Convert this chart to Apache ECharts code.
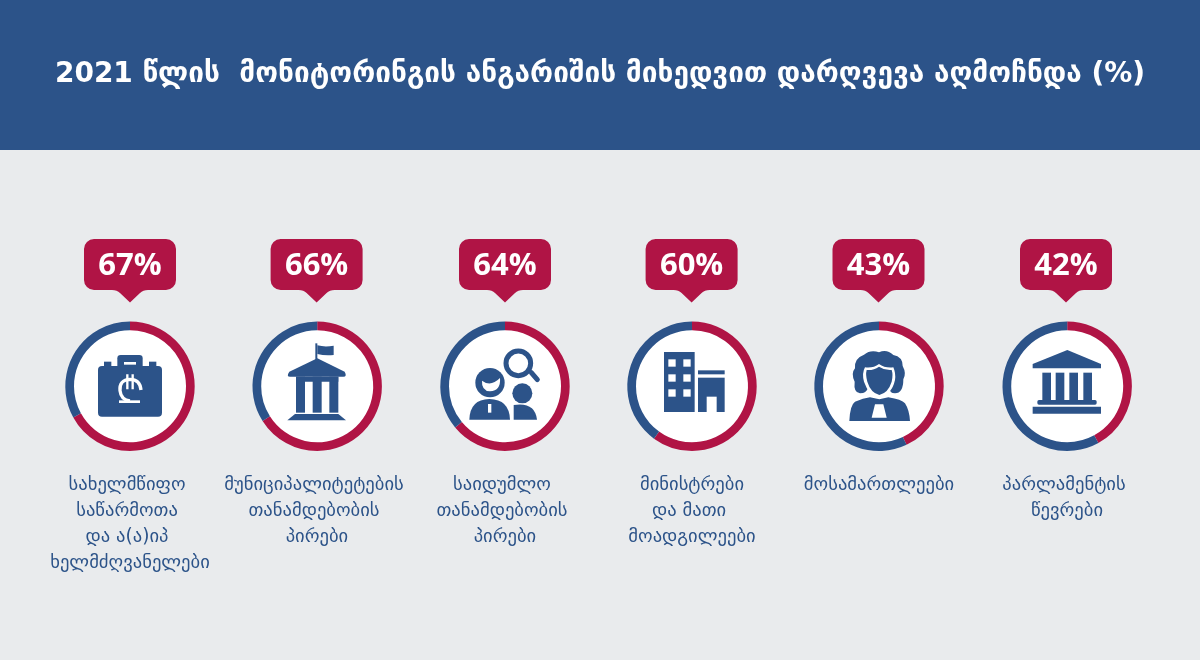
<!DOCTYPE html>
<html><head><meta charset="utf-8">
<style>html,body{margin:0;padding:0;background:#e9ebed}#c{width:1200px;height:660px}</style>
<script src="https://cdn.jsdelivr.net/npm/echarts@6/dist/echarts.min.js"></script>
</head><body><div id="c"></div>
<script>
const titleText = '2021 წლის  მონიტორინგის ანგარიშის მიხედვით დარღვევა აღმოჩნდა (%)';
const values = [67, 66, 64, 60, 43, 42];
const categories = [
  ['სახელმწიფო ', 'საწარმოთა ', 'და ა(ა)იპ ', 'ხელმძღვანელები'],
  ['მუნიციპალიტეტების', 'თანამდებობის', ' პირები'],
  ['საიდუმლო', 'თანამდებობის', ' პირები'],
  ['მინისტრები', 'და მათი ', 'მოადგილეები'],
  ['მოსამართლეები'],
  ['პარლამენტის', ' წევრები']
];
const BLUE = '#2c5389', RED = '#b01445', BG = '#e9ebed';
const ringX = [130, 317.2, 505, 692, 879, 1067.2];
const bubbleX = [130, 316.6, 505, 691.6, 878.5, 1066];
const labelX = [130, 314, 502, 692, 879, 1064];
const RING_Y = 386.3;

let shapeId = 0;
function pathEl(d, style) {
  const name = 'iconPath' + (shapeId++);
  echarts.graphic.registerShape(name, echarts.graphic.extendPath(d, {}));
  return {type: name, shape: {}, style: style};
}
const f = (d, fill) => pathEl(d, {fill: fill || BLUE});
const s = (d, color, w, cap) => pathEl(d, {fill: 'none', stroke: color || BLUE, lineWidth: w, lineCap: cap || 'butt'});
const c = (x, y, r, fill) => ({type: 'circle', shape: {cx: x, cy: y, r: r}, style: {fill: fill || BLUE}});
const r = (x, y, w, h, fill, rad) => ({type: 'rect', shape: {x: x, y: y, width: w, height: h, r: rad || 0}, style: {fill: fill || BLUE}});

// Icons are drawn in 3x crop coordinates; each has its group origin.
const icons = [
  {x: 40, y: 230, children: [
    r(232, 375, 76, 50, BLUE, 10), r(192, 395, 22, 20), r(327, 395, 22, 20),
    r(174, 408, 192, 152, BLUE, 12), r(252, 396, 36, 8, '#fff'),
    s('M303 480 Q300 448 270 448 Q237 450 240 482 Q243 510 270 513', '#fff', 10),
    s('M262 433 V478 M278 433 V478', '#fff', 7),
    r(237, 511, 63, 8, '#fff')
  ]},
  {x: 40, y: 230, children: [
    r(826, 340, 6, 50), f('M832 346 Q855 352 881 347 V375 Q855 378 832 372 Z'),
    f('M832 385 L914 425 Q922 440 910 440 H750 Q738 440 748 425 Z'),
    r(768, 440, 27, 108), r(818, 440, 27, 108), r(868, 440, 27, 108), r(768, 440, 127, 15),
    f('M742 571 L765 552 H895 L918 571 Z')
  ]},
  {x: 420, y: 230, children: [
    {type: 'circle', shape: {cx: 295, cy: 400, r: 37}, style: {fill: 'none', stroke: BLUE, lineWidth: 15}},
    s('M334 428 L352 449', BLUE, 15, 'round'),
    c(210, 458, 44),
    f('M186 452 Q212 472 240 444 Q243 482 210 484 Q184 482 186 452 Z', '#fff'),
    f('M148 569 Q150 508 208 507 Q268 508 270 569 Z'),
    r(204, 522, 10, 26, '#fff'), c(307, 490, 30),
    f('M281 569 V525 Q345 515 351 569 Z')
  ]},
  {x: 420, y: 230, children: [
    r(732, 366, 92, 180),
    ...[745, 790].flatMap(x => [388, 433, 478].map(y => r(x, y, 22, 22, '#fff'))),
    r(834, 421, 80, 12), r(834, 443, 80, 103), r(860, 500, 30, 46, '#fff')
  ]},
  {x: 840, y: 340, children: [
    f('M72 44 Q92 28 117 37 Q140 26 160 45 Q188 50 188 78 Q200 100 190 118 Q190 160 165 160 Q148 160 148 140 L85 140 Q80 160 60 160 Q40 158 44 125 Q32 100 45 85 Q42 55 72 44 Z'),
    f('M117 72 Q135 85 160 82 Q168 100 165 120 Q155 165 118 172 Q85 165 72 125 Q65 100 75 82 Q100 85 117 72 Z', '#fff'),
    f('M117 80 Q135 92 155 90 Q160 105 155 125 Q145 158 118 165 Q92 158 82 125 Q76 105 80 90 Q100 92 117 80 Z'),
    f('M28 243 Q30 195 45 185 Q70 175 90 172 L118 178 L145 172 Q185 178 195 190 Q208 210 210 243 Z'),
    f('M105 193 H130 L140 233 H95 Z', '#fff')
  ]},
  {x: 790, y: 230, children: [
    f('M832 360 L933 402 V415 H728 V402 Z'),
    r(757, 428, 26, 82), r(797, 428, 26, 82), r(838, 428, 26, 82), r(880, 428, 26, 82),
    r(742, 510, 178, 14, BLUE, 5), r(728, 530, 205, 21)
  ]}
];

const bubblePath = 'M-36 -51 H36 A10 10 0 0 1 46 -41 V-10 A10 10 0 0 1 36 0 H18 Q13 0 10 3 L0 12.6 L-10 3 Q-13 0 -18 0 H-36 A10 10 0 0 1 -46 -10 V-41 A10 10 0 0 1 -36 -51 Z';

const graphic = [
  {type: 'rect', z: -10, shape: {x: 0, y: 0, width: 1200, height: 150}, style: {fill: BLUE}}
];
values.forEach((v, i) => {
  graphic.push(Object.assign(f(bubblePath, RED), {x: bubbleX[i], y: 290, z: 5}));
  graphic.push({type: 'text', x: bubbleX[i], y: 266, z: 6, style: {
    text: v + '%', fill: '#fff', font: 'bold 31px "Open Sans"', align: 'center', verticalAlign: 'middle'
  }});
  graphic.push({type: 'group', z: 10, x: icons[i].x, y: icons[i].y, scaleX: 1 / 3, scaleY: 1 / 3,
    children: icons[i].children.map(e => Object.assign(e, {z: 10}))});
  categories[i].forEach((line, k) => {
    graphic.push({type: 'text', x: labelX[i], y: 485 + k * 26, z: 6, style: {
      text: line, fill: BLUE, font: '18.6px "DejaVu Sans"', align: 'center', verticalAlign: 'middle'
    }});
  });
});

const series = [];
values.forEach((v, i) => {
  series.push({
    type: 'pie', silent: true, animation: false, center: [ringX[i], RING_Y], radius: [0, 57],
    label: {show: false}, labelLine: {show: false}, data: [{value: 1, itemStyle: {color: '#fff'}}]
  });
  series.push({
    type: 'pie', silent: true, animation: false, center: [ringX[i], RING_Y], radius: [56, 64.7],
    startAngle: 90, clockwise: true, label: {show: false}, labelLine: {show: false},
    data: [{value: v, itemStyle: {color: RED}}, {value: 100 - v, itemStyle: {color: BLUE}}]
  });
});

const chart = echarts.init(document.getElementById('c'), null, {renderer: 'canvas'});
chart.setOption({
  backgroundColor: BG,
  animation: false,
  title: {
    text: titleText, left: 595, top: 70, textAlign: 'center', textVerticalAlign: 'middle',
    textStyle: {color: '#fff', fontFamily: '"DejaVu Sans"', fontWeight: 'bold', fontSize: 28}
  },
  graphic: graphic,
  series: series
});
</script></body></html>
